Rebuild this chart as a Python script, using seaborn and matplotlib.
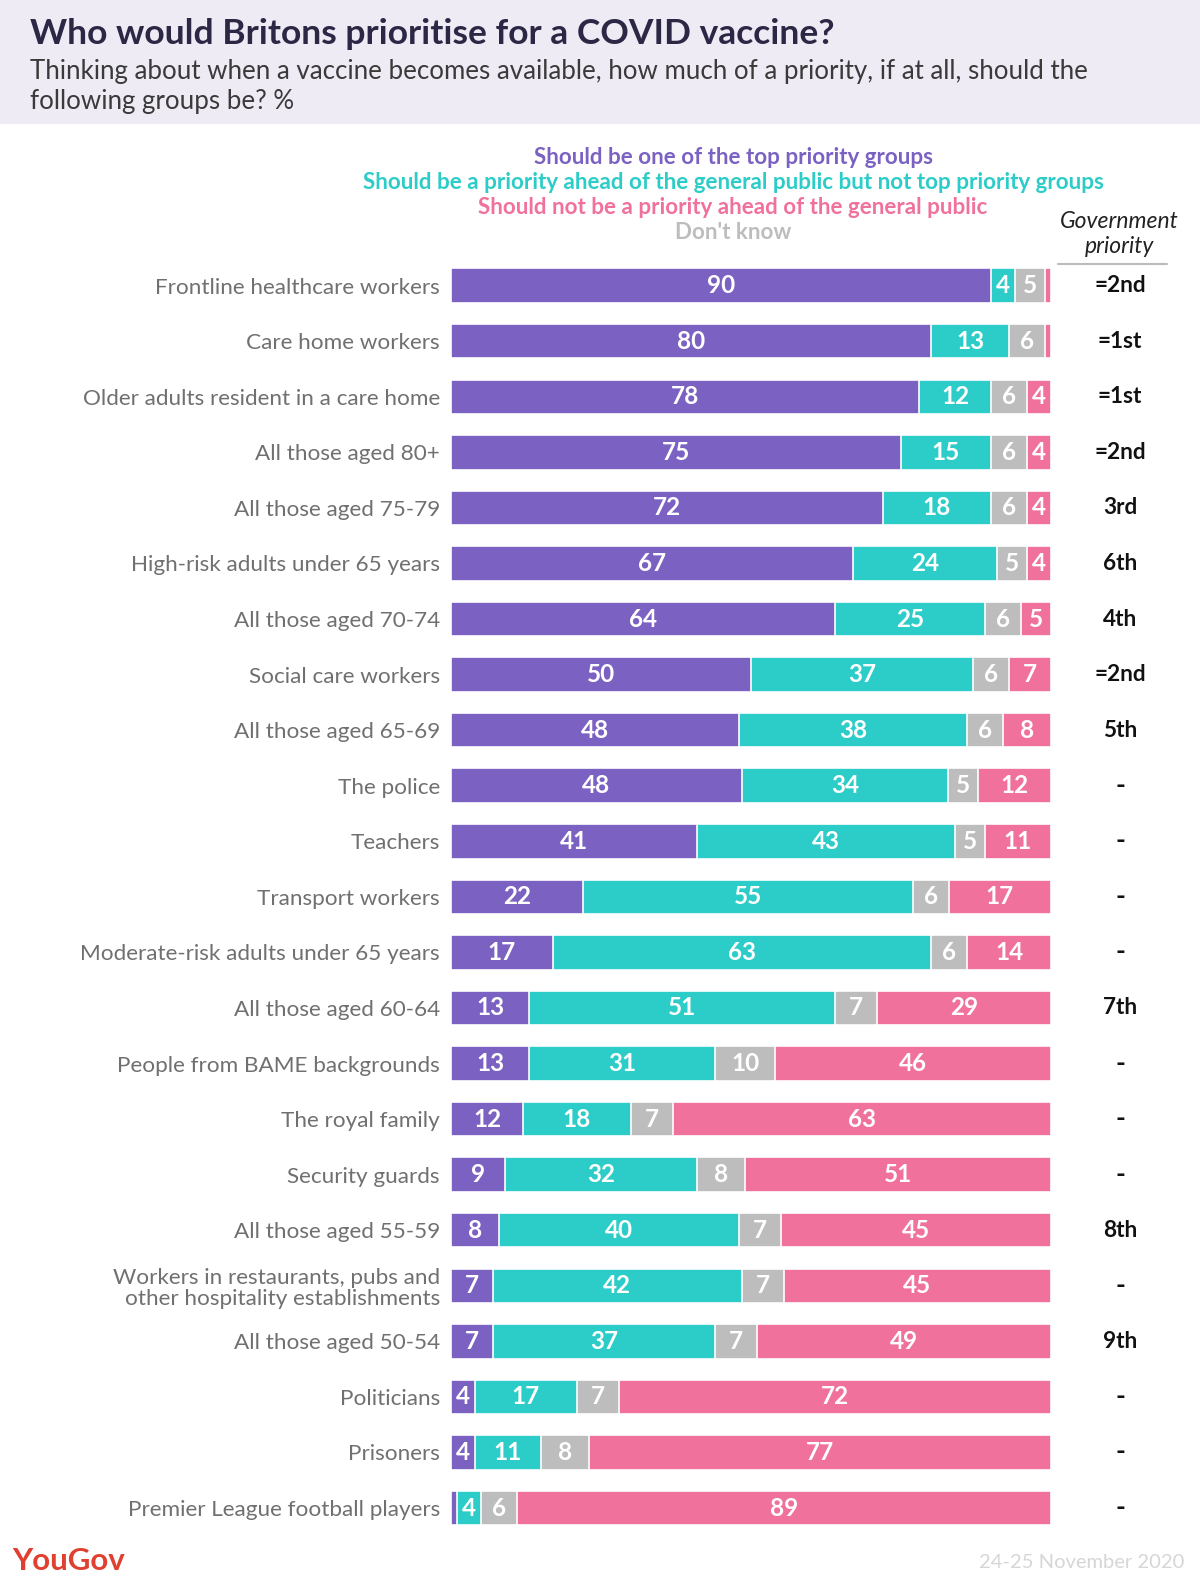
import pandas as pd
import matplotlib.pyplot as plt
import matplotlib.transforms as mtransforms
from matplotlib.patches import Rectangle
import seaborn as sns

############## DATA ###################
groups = [
    "Frontline healthcare workers",
    "Care home workers",
    "Older adults resident in a care home",
    "All those aged 80+",
    "All those aged 75-79",
    "High-risk adults under 65 years",
    "All those aged 70-74",
    "Social care workers",
    "All those aged 65-69",
    "The police",
    "Teachers",
    "Transport workers",
    "Moderate-risk adults under 65 years",
    "All those aged 60-64",
    "People from BAME backgrounds",
    "The royal family",
    "Security guards",
    "All those aged 55-59",
    "Workers in restaurants, pubs and\nother hospitality establishments",
    "All those aged 50-54",
    "Politicians",
    "Prisoners",
    "Premier League football players",
]
top_priority = [90, 80, 78, 75, 72, 67, 64, 50, 48, 48, 41, 22, 17, 13, 13, 12, 9, 8, 7, 7, 4, 4, 1]
ahead_of_public = [4, 13, 12, 15, 18, 24, 25, 37, 38, 34, 43, 55, 63, 51, 31, 18, 32, 40, 42, 37, 17, 11, 4]
dont_know = [5, 6, 6, 6, 6, 5, 6, 6, 6, 5, 5, 6, 6, 7, 10, 7, 8, 7, 7, 7, 7, 8, 6]
not_priority = [1, 1, 4, 4, 4, 4, 5, 7, 8, 12, 11, 17, 14, 29, 46, 63, 51, 45, 45, 49, 72, 77, 89]
gov_priority = ["=2nd", "=1st", "=1st", "=2nd", "3rd", "6th", "4th", "=2nd", "5th", "-", "-", "-", "-",
                "7th", "-", "-", "-", "8th", "-", "9th", "-", "-", "-"]

legend_labels = [
    "Should be one of the top priority groups",
    "Should be a priority ahead of the general public but not top priority groups",
    "Should not be a priority ahead of the general public",
    "Don't know",
]
#######################################

PURPLE = "#7B62C2"
TEAL = "#2CCCC8"
GREY = "#BDBDBD"
PINK = "#F0719C"

sns.set_style("white")
plt.rcParams["font.family"] = ["Lato", "DejaVu Sans"]

cols = ["top", "ahead", "dk", "notp"]
df = pd.DataFrame({"group": groups, "top": top_priority, "ahead": ahead_of_public,
                   "dk": dont_know, "notp": not_priority})
# bars in the original all fill the full width, so scale each row to 100
total = df[cols].sum(axis=1)
for c in cols:
    df[c + "_pct"] = df[c] / total * 100
df["c1"] = df["top_pct"]
df["c2"] = df["c1"] + df["ahead_pct"]
df["c3"] = df["c2"] + df["dk_pct"]
df["c4"] = df["c3"] + df["notp_pct"]

fig = plt.figure(figsize=(12, 15.83), dpi=100)

# header band
fig.patches.append(Rectangle((0, 1 - 124 / 1583), 1, 124 / 1583, transform=fig.transFigure,
                             facecolor="#EEEBF5", edgecolor="none", zorder=0))
fig.text(30 / 1200, 1 - 34 / 1583, "Who would Britons prioritise for a COVID vaccine?",
         fontsize=25.5, fontweight="bold", color="#2B2745", va="center")
fig.text(30 / 1200, 1 - 86 / 1583,
         "Thinking about when a vaccine becomes available, how much of a priority, if at all, should the\nfollowing groups be? %",
         fontsize=18.6, color="#3A3A3A", va="center", linespacing=1.25)

ax = fig.add_axes([451 / 1200, 0.0298, 0.5, 0.8073])

# stacked bars drawn back to front using cumulative totals
for ccol, color in [("c4", PINK), ("c3", GREY), ("c2", TEAL), ("c1", PURPLE)]:
    sns.barplot(data=df, x=ccol, y="group", color=color, orient="h", width=0.62,
                saturation=1, edgecolor="white", linewidth=1.2, ax=ax)

ax.set_xlim(0, 100)
ax.set_xlabel("")
ax.set_ylabel("")
ax.set_xticks([])
sns.despine(ax=ax, left=True, bottom=True)
ax.tick_params(axis="y", length=0, pad=8, labelsize=16.2, labelcolor="#707070")
for t in ax.get_yticklabels():
    t.set_linespacing(1.05)

# segment labels
for i, row in df.iterrows():
    start = 0
    for c in cols:
        w = row[c + "_pct"]
        if row[c] >= 2:
            ax.text(start + w / 2, i, str(int(row[c])), ha="center", va="center",
                    color="white", fontweight="bold", fontsize=17.5)
        start += w

# government priority column
trans = mtransforms.blended_transform_factory(fig.transFigure, ax.transData)
for i, g in enumerate(gov_priority):
    ax.text(1120 / 1200, i, g, transform=trans, ha="center", va="center",
            fontsize=16.3 if g != "-" else 19, fontweight="bold", color="#111111")

fig.text(1119 / 1200, 1 - 234 / 1583, "Government\npriority", ha="center", va="center",
         fontsize=16.5, style="italic", color="#222222", linespacing=1.2)
fig.add_artist(plt.Line2D([1058 / 1200, 1167 / 1200], [1 - 264 / 1583, 1 - 264 / 1583],
                          transform=fig.transFigure, color="#BBBBBB", lw=1.5))

# legend text
for k, (lab, color) in enumerate(zip(legend_labels, [PURPLE, TEAL, PINK, GREY])):
    fig.text(733 / 1200, 1 - (157 + k * 25.3) / 1583, lab, ha="center", va="center",
             fontsize=16.1, fontweight="bold", color=color)

# footer
fig.text(12 / 1200, 1 - 1561 / 1583, "YouGov", fontsize=22.5, fontweight="bold",
         color="#E0402F", va="center")
fig.text(1184 / 1200, 1 - 1563 / 1583, "24-25 November 2020", fontsize=14.5, color="#D6D6D6",
         ha="right", va="center")

fig.savefig("out.png", dpi=100)
